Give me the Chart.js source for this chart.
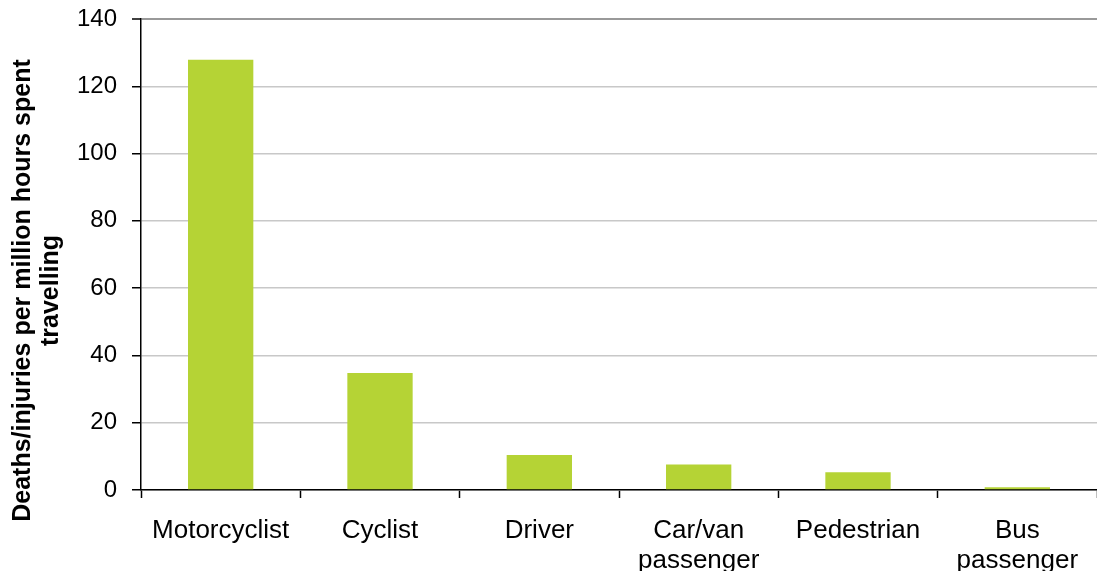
<!DOCTYPE html>
<html>
<head>
<meta charset="utf-8">
<script src="https://cdn.jsdelivr.net/npm/chart.js@4"></script>
<style>
  body { margin: 0; background: #fff; }
  #wrap { width: 1097px; height: 571px; position: relative; }
</style>
</head>
<body>
<div id="wrap"><canvas id="grafico"></canvas></div>
<script>
const categorias = ["Motorcyclist", "Cyclist", "Driver", ["Car/van", "passenger"], "Pedestrian", ["Bus", "passenger"]];
const valores = [127.9, 34.8, 10.4, 7.6, 5.3, 0.8];
const tituloY = ["Deaths/injuries per million hours spent", "travelling"];
const yMin = 0, yMax = 140, yPasso = 20;

// axis title drawn by hand so it is centred on the whole canvas like the original
const tituloPlugin = {
  id: "tituloY",
  afterDraw(chart) {
    const ctx = chart.ctx;
    ctx.save();
    ctx.font = "bold 25px 'Liberation Sans', Arial, sans-serif";
    ctx.fillStyle = "#000";
    ctx.textAlign = "center";
    ctx.textBaseline = "middle";
    const cy = chart.height / 2 + 5;
    tituloY.forEach((linha, i) => {
      ctx.save();
      ctx.translate(23 + i * 28, cy);
      ctx.rotate(-Math.PI / 2);
      ctx.fillText(linha, 0, 0);
      ctx.restore();
    });
    ctx.restore();
  }
};

new Chart(document.getElementById("grafico").getContext("2d"), {
  type: "bar",
  data: {
    labels: categorias,
    datasets: [{
      data: valores,
      backgroundColor: "#b5d335",
      barPercentage: 0.41,
      categoryPercentage: 1
    }]
  },
  options: {
    responsive: true,
    maintainAspectRatio: false,
    animation: false,
    layout: { padding: { top: 19, right: 0, left: 0, bottom: 0 } },
    plugins: { legend: { display: false }, tooltip: { enabled: false } },
    scales: {
      x: {
        afterFit: s => { s.height = 81; },
        grid: {
          offset: true,
          drawOnChartArea: false,
          tickColor: "#000",
          tickLength: 8,
          tickWidth: 1.5
        },
        border: { color: "#000", width: 1.5 },
        ticks: {
          color: "#000",
          padding: 17,
          maxRotation: 0,
          autoSkip: false,
          font: { family: "'Liberation Sans', Arial, sans-serif", size: 26, lineHeight: 1.18 }
        }
      },
      y: {
        min: yMin,
        max: yMax,
        afterFit: s => { s.width = 141; s.paddingTop = 0; s.paddingBottom = 0; },
        grid: {
          color: ctx => ctx.tick && ctx.tick.value === yMax ? "#999" : "#c8c8c8",
          lineWidth: ctx => ctx.tick && ctx.tick.value === yMax ? 2 : 1.5,
          tickColor: "#000",
          tickLength: 9,
          tickWidth: 1.5
        },
        border: { color: "#000", width: 1.5 },
        ticks: {
          stepSize: yPasso,
          color: "#000",
          padding: 15,
          font: { family: "'Liberation Sans', Arial, sans-serif", size: 24 }
        }
      }
    }
  },
  plugins: [tituloPlugin]
});
</script>
</body>
</html>
